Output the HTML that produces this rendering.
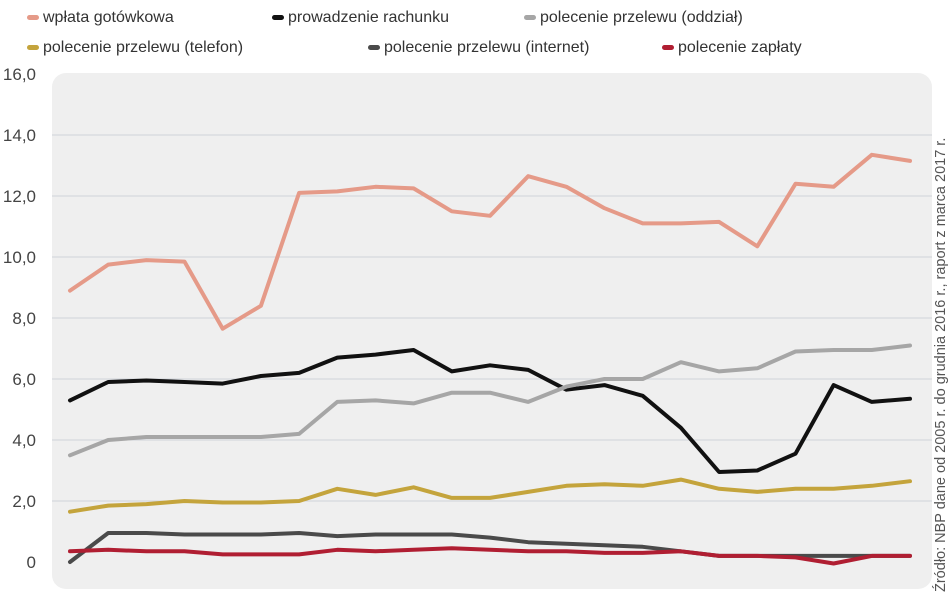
<!DOCTYPE html>
<html><head><meta charset="utf-8">
<style>
body{margin:0;background:#fff;font-family:"Liberation Sans",sans-serif;}
svg text{font-family:"Liberation Sans",sans-serif;}
</style></head>
<body>
<svg id="chart" width="948" height="593" viewBox="0 0 948 593" xmlns="http://www.w3.org/2000/svg">
<rect x="52" y="73" width="880" height="516" rx="14" fill="#efefef"/>
<g id="grid"></g>
<g id="ylabels"></g>
<g id="series"></g>
<g id="legend"></g>
<text transform="translate(945,592) rotate(-90)" font-size="14.5" fill="#555">Źródło: NBP dane od 2005 r. do grudnia 2016 r., raport z marca 2017 r.</text>
</svg>
<script>
const yTicks=[0,2,4,6,8,10,12,14,16];
const yTickLabels=["0","2,0","4,0","6,0","8,0","10,0","12,0","14,0","16,0"];
const seriesNames=["wpłata gotówkowa","prowadzenie rachunku","polecenie przelewu (oddział)","polecenie przelewu (telefon)","polecenie przelewu (internet)","polecenie zapłaty"];
const seriesColors=["#e59a88","#111111","#a6a6a6","#c4a43c","#4a4a4a","#b01e32"];
const wplata=[8.9,9.75,9.9,9.85,7.65,8.4,12.1,12.15,12.3,12.25,11.5,11.35,12.65,12.3,11.6,11.1,11.1,11.15,10.35,12.4,12.3,13.35,13.15];
const prowadzenie=[5.3,5.9,5.95,5.9,5.85,6.1,6.2,6.7,6.8,6.95,6.25,6.45,6.3,5.65,5.8,5.45,4.4,2.95,3.0,3.55,5.8,5.25,5.35];
const oddzial=[3.5,4.0,4.1,4.1,4.1,4.1,4.2,5.25,5.3,5.2,5.55,5.55,5.25,5.75,6.0,6.0,6.55,6.25,6.35,6.9,6.95,6.95,7.1];
const telefon=[1.65,1.85,1.9,2.0,1.95,1.95,2.0,2.4,2.2,2.45,2.1,2.1,2.3,2.5,2.55,2.5,2.7,2.4,2.3,2.4,2.4,2.5,2.65];
const internet=[0.0,0.95,0.95,0.9,0.9,0.9,0.95,0.85,0.9,0.9,0.9,0.8,0.65,0.6,0.55,0.5,0.35,0.2,0.2,0.2,0.2,0.2,0.2];
const zaplaty=[0.35,0.4,0.35,0.35,0.25,0.25,0.25,0.4,0.35,0.4,0.45,0.4,0.35,0.35,0.3,0.3,0.35,0.2,0.2,0.15,-0.05,0.2,0.2];
const allSeries=[wplata,prowadzenie,oddzial,telefon,internet,zaplaty];
const NS="http://www.w3.org/2000/svg";
const x0=70,x1=910,y0=562,pxPerUnit=30.5;
function xs(i,n){return x0+(x1-x0)*i/(n-1);}
function ys(v){return y0-v*pxPerUnit;}
function mk(t,a,p){const e=document.createElementNS(NS,t);for(const k in a)e.setAttribute(k,a[k]);p.appendChild(e);return e;}
const grid=document.getElementById('grid'),yl=document.getElementById('ylabels');
yTicks.forEach((v,i)=>{
  if(v>0&&v<16){const l=mk('line',{x1:52,x2:932,y1:ys(v),y2:ys(v),stroke:'#cfd3da','stroke-width':1},grid);
  
  }
  const t=mk('text',{x:36,y:ys(v)+6,'text-anchor':'end','font-size':17,fill:'#444'},yl);
  t.textContent=yTickLabels[i];
  
  
});
const sg=document.getElementById('series');
allSeries.forEach((s,k)=>{
  const pts=s.map((v,i)=>xs(i,s.length).toFixed(1)+','+ys(v).toFixed(1)).join(' ');
  const p=mk('polyline',{points:pts,fill:'none',stroke:seriesColors[k],'stroke-width':4,'stroke-linejoin':'round','stroke-linecap':'round'},sg);
  
  
});
const lg=document.getElementById('legend');
const legPos=[[27,22],[272,22],[524,22],[27,52],[368,52],[662,52]];
seriesNames.forEach((n,k)=>{
  const g=mk('g',{},lg);
  
  
  mk('rect',{x:legPos[k][0],y:legPos[k][1]-7,width:12,height:5,rx:2.5,fill:seriesColors[k]},g);
  const t=mk('text',{x:legPos[k][0]+16,y:legPos[k][1],'font-size':16,fill:'#333'},g);
  t.textContent=n;
});
</script>
</body></html>
